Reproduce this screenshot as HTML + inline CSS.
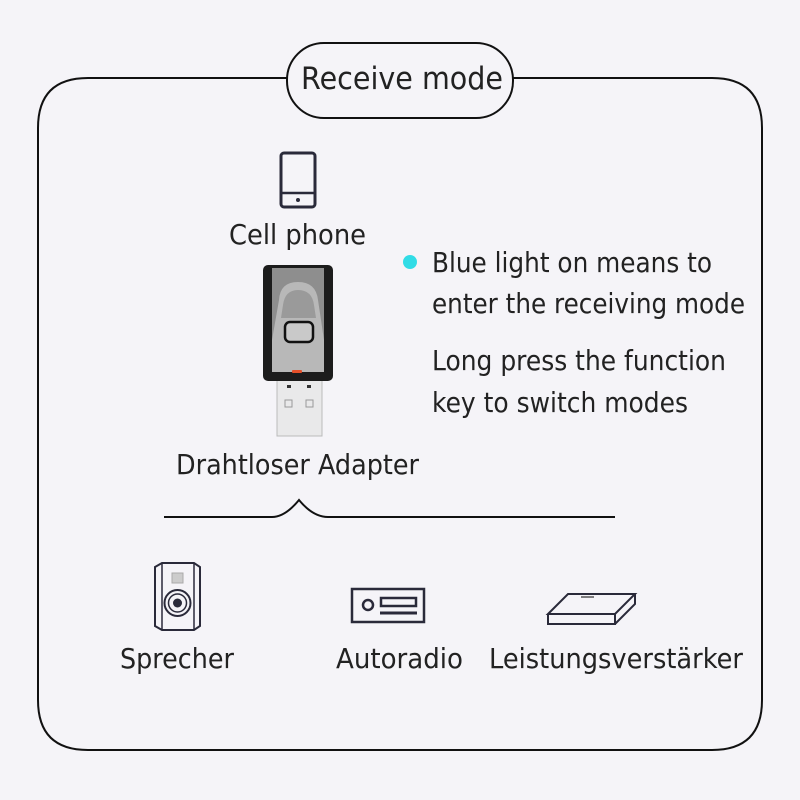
<!DOCTYPE html>
<html><head><meta charset="utf-8"><style>
html,body{margin:0;padding:0;background:#f5f4f8;}
svg{display:block}
text{font-family:"DejaVu Sans","Liberation Sans",sans-serif;fill:#222;font-size:28px}
</style></head><body>
<svg width="800" height="800" viewBox="0 0 800 800" xmlns="http://www.w3.org/2000/svg">
<rect width="800" height="800" fill="#f5f4f8"/>
<path d="M287,78 H88 Q38,78 38,128 V700 Q38,750 88,750 H712 Q762,750 762,700 V128 Q762,78 712,78 H513" fill="none" stroke="#111" stroke-width="2"/>
<rect x="287" y="43" width="226" height="75" rx="37" fill="#f5f4f8" stroke="#111" stroke-width="2"/>
<text x="301" y="89" style="font-size:31px" textLength="202" lengthAdjust="spacingAndGlyphs">Receive mode</text>

<rect x="281" y="153" width="34" height="54" rx="3" fill="none" stroke="#2a2a3a" stroke-width="3"/>
<line x1="281" y1="193" x2="315" y2="193" stroke="#2a2a3a" stroke-width="2.5"/>
<circle cx="298" cy="200" r="2" fill="#2a2a3a"/>
<text x="229" y="244" textLength="137" lengthAdjust="spacingAndGlyphs">Cell phone</text>

<rect x="277" y="378" width="45" height="58" fill="#e9e9ea" stroke="#bbb"/>
<rect x="287" y="385" width="4" height="3" fill="#333"/><rect x="307" y="385" width="4" height="3" fill="#333"/>
<rect x="285" y="400" width="7" height="7" fill="none" stroke="#999"/><rect x="306" y="400" width="7" height="7" fill="none" stroke="#999"/>
<rect x="263" y="265" width="70" height="116" rx="5" fill="#1c1c1c"/>
<path d="M272,268 H324 V372 H272 Z" fill="#8e8e8e"/>
<path d="M279,300 Q280,282 298,282 Q316,282 318,300 L324,340 V372 H272 V340 Z" fill="#b8b8b8"/>
<path d="M283,305 Q285,290 298,290 Q312,290 314,305 L316,318 H281 Z" fill="#9a9a9a"/>
<rect x="285" y="322" width="28" height="20" rx="5" fill="#c9c9c9" stroke="#111" stroke-width="2.5"/>
<rect x="292" y="370" width="10" height="3" rx="1" fill="#e4502a"/>
<text x="176" y="474" textLength="243" lengthAdjust="spacingAndGlyphs">Drahtloser Adapter</text>

<circle cx="410" cy="262" r="7" fill="#31dce6"/>
<text x="432" y="272" textLength="280" lengthAdjust="spacingAndGlyphs">Blue light on means to</text>
<text x="432" y="313" textLength="313" lengthAdjust="spacingAndGlyphs">enter the receiving mode</text>
<text x="432" y="370" textLength="294" lengthAdjust="spacingAndGlyphs">Long press the function</text>
<text x="432" y="412" textLength="256" lengthAdjust="spacingAndGlyphs">key to switch modes</text>

<path d="M164,517 H272 Q285,517 299,500 Q313,517 328,517 H615" fill="none" stroke="#111" stroke-width="2"/>

<path d="M155,567 L162,563 H194 L200,567 V626 L194,630 H162 L155,626 Z" fill="none" stroke="#2a2a3a" stroke-width="2"/>
<line x1="162" y1="563" x2="162" y2="630" stroke="#2a2a3a" stroke-width="1.5"/>
<line x1="194" y1="563" x2="194" y2="630" stroke="#2a2a3a" stroke-width="1.5"/>
<rect x="172" y="573" width="11" height="10" fill="#ccc" stroke="#aaa"/>
<circle cx="177.5" cy="603" r="13" fill="none" stroke="#2a2a3a" stroke-width="2"/>
<circle cx="177.5" cy="603" r="9" fill="none" stroke="#2a2a3a" stroke-width="1.5"/>
<circle cx="177.5" cy="603" r="4.5" fill="#2a2a3a"/>
<text x="120" y="668" textLength="114" lengthAdjust="spacingAndGlyphs">Sprecher</text>

<rect x="352" y="589" width="72" height="33" fill="none" stroke="#2a2a3a" stroke-width="2.5"/>
<circle cx="368" cy="605" r="5" fill="none" stroke="#2a2a3a" stroke-width="2.5"/>
<rect x="381" y="598" width="35" height="8" fill="none" stroke="#2a2a3a" stroke-width="2.5"/>
<line x1="380" y1="613" x2="417" y2="613" stroke="#2a2a3a" stroke-width="3"/>
<text x="336" y="668" textLength="127" lengthAdjust="spacingAndGlyphs">Autoradio</text>

<path d="M548,614 L568,594 H635 L615,614 Z" fill="none" stroke="#2a2a3a" stroke-width="2"/>
<path d="M548,614 V624 H615 V614 M615,624 L635,604 V594" fill="none" stroke="#2a2a3a" stroke-width="2"/>
<line x1="581" y1="597" x2="594" y2="597" stroke="#555" stroke-width="1.5"/>
<text x="489" y="668" textLength="254" lengthAdjust="spacingAndGlyphs">Leistungsverstärker</text>
</svg>
</body></html>
